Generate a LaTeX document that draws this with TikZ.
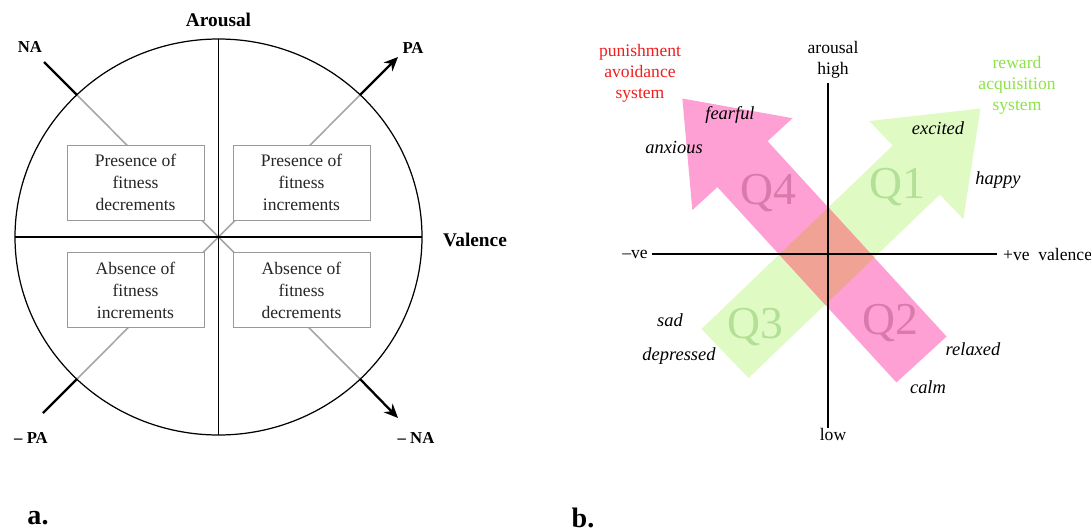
\documentclass[tikz,border=0pt]{standalone}
\usepackage{fontspec}
\setmainfont{Liberation Serif}
\usepackage{xcolor}
\usepackage{tikz}
\usetikzlibrary{arrows.meta,positioning}
\definecolor{pinkarr}{RGB}{255,160,212}
\definecolor{greenarr}{RGB}{224,250,196}
\definecolor{overlapc}{RGB}{240,162,148}
\definecolor{qpink}{RGB}{218,122,170}
\definecolor{qgreen}{RGB}{178,224,150}
\definecolor{punred}{RGB}{240,30,30}
\definecolor{rewgreen}{RGB}{140,226,70}

\begin{document}
\begin{tikzpicture}[x=0.02cm, y=-0.02cm,
        fitbox/.style={draw=black!40, fill=white, align=center, minimum width=2.74cm, minimum height=1.5cm, inner sep=2pt, font=\fontsize{10}{12.5}\selectfont, text=black!85},
        axislbl/.style={font=\bfseries\fontsize{11}{13}\selectfont, inner sep=1pt},
        dirlbl/.style={font=\bfseries\fontsize{9.5}{11}\selectfont, inner sep=1pt},
        diag/.style={draw=black!35, line width=0.9pt},
        outer/.style={line width=1.3pt},
        arrow/.style={-{Stealth[length=8pt,width=7pt]}, line width=1.3pt},
        emo/.style={font=\itshape\fontsize{10.5}{12}\selectfont, inner sep=1pt},
        plain/.style={font=\fontsize{10}{12}\selectfont, inner sep=1pt, align=center},
        qlbl/.style={font=\fontsize{26}{28}\selectfont, inner sep=0pt},
        panel/.style={font=\bfseries\fontsize{16}{18}\selectfont, inner sep=0pt}
    ]
    \useasboundingbox (0,0) rectangle (1091,531);

    % panel a
    \coordinate (ctr) at (218.5,237);
    \coordinate (aT) at (218.5,39);
    \coordinate (aB) at (218.5,435);
    \coordinate (aL) at (15,237);
    \coordinate (aR) at (422,237);
    \coordinate (nw) at (77,95);
    \coordinate (ne) at (360,95);
    \coordinate (sw) at (77,379);
    \coordinate (se) at (360,379);
    \coordinate (naEnd) at (44,62);
    \coordinate (paEnd) at (398,57);
    \coordinate (mpaEnd) at (43,413);
    \coordinate (mnaEnd) at (398,418);

    \draw[diag] (nw) -- (se);
    \draw[diag] (sw) -- (ne);
    \draw[line width=0.7pt] (ctr) ellipse [x radius=203.5, y radius=198];
    \draw[line width=0.7pt] (aL) -- (aR);
    \draw[line width=0.7pt] (aT) -- (aB);

    \node[fitbox] (presDec) at (135.5,182.5) {Presence of\\fitness\\decrements};
    \node[fitbox] (presInc) at (301.5,182.5) {Presence of\\fitness\\increments};
    \node[fitbox] (absInc) at (135.5,290) {Absence of\\fitness\\increments};
    \node[fitbox] (absDec) at (301.5,290) {Absence of\\fitness\\decrements};

    \draw[outer] (naEnd) -- (nw);
    \draw[arrow] (ne) -- (paEnd);
    \draw[outer] (sw) -- (mpaEnd);
    \draw[arrow] (se) -- (mnaEnd);

    \node[axislbl] (arousalA) at (218.5,20) {Arousal};
    \node[axislbl] (valenceA) at (475,240) {Valence};
    \node[dirlbl] (na) at (30,47) {NA};
    \node[dirlbl] (pa) at (413,48) {PA};
    \node[dirlbl] (mpa) at (31,438) {-- PA};
    \node[dirlbl] (mna) at (416,438) {-- NA};
    \node[panel] (labA) at (38,518) {a.};

    % panel b
    \begin{scope}[shift={(725,353.5)}, rotate=43.8]
        \fill[greenarr] (0,34) -- (265,34) -- (265,68) -- (354,0) -- (265,-68) -- (265,-34) -- (0,-34) -- cycle;
        \coordinate (gu1) at (0,34);
        \coordinate (gu2) at (265,34);
        \coordinate (gd1) at (0,-34);
        \coordinate (gd2) at (265,-34);
    \end{scope}
    \begin{scope}[shift={(921.5,359.5)}, rotate=132.5]
        \fill[pinkarr] (0,34) -- (265,34) -- (265,68) -- (354,0) -- (265,-68) -- (265,-34) -- (0,-34) -- cycle;
        \coordinate (pu1) at (0,34);
        \coordinate (pu2) at (265,34);
        \coordinate (pd1) at (0,-34);
        \coordinate (pd2) at (265,-34);
    \end{scope}
    \fill[overlapc] (intersection of gu1--gu2 and pu1--pu2) -- (intersection of gu1--gu2 and pd1--pd2)
        -- (intersection of gd1--gd2 and pd1--pd2) -- (intersection of gd1--gd2 and pu1--pu2) -- cycle;

    \node[qlbl, text=qpink] (q4) at (768,193) {Q4};
    \node[qlbl, text=qgreen] (q1) at (897,187) {Q1};
    \node[qlbl, text=qgreen] (q3) at (755,327) {Q3};
    \node[qlbl, text=qpink] (q2) at (890,323) {Q2};

    \coordinate (vt) at (828,83);
    \coordinate (vb) at (828,428);
    \coordinate (hl) at (652,254);
    \coordinate (hr) at (997,254);
    \draw[line width=1.1pt] (vt) -- (vb);
    \draw[line width=1.1pt] (hl) -- (hr);

    \node[plain] (arousalB) at (833,60) {arousal\\high};
    \node[plain] (low) at (833,434) {low};
    \node[plain] (negVe) at (635,254) {--ve};
    \node[plain, anchor=west] (posVe) at (1001,254) {+ve\ \ valence};
    \node[plain, text=punred] (punish) at (640,73) {punishment\\avoidance\\system};
    \node[plain, text=rewgreen] (reward) at (1017,85) {reward\\acquisition\\system};

    \node[emo] (fearful) at (730,115) {fearful};
    \node[emo] (anxious) at (674,147) {anxious};
    \node[emo] (excited) at (938,128) {excited};
    \node[emo] (happy) at (998,180) {happy};
    \node[emo] (sad) at (670,320) {sad};
    \node[emo] (depressed) at (679,356) {depressed};
    \node[emo] (relaxed) at (973,349) {relaxed};
    \node[emo] (calm) at (928,387) {calm};
    \node[panel] (labB) at (583,518) {b.};
\end{tikzpicture}
\end{document}
